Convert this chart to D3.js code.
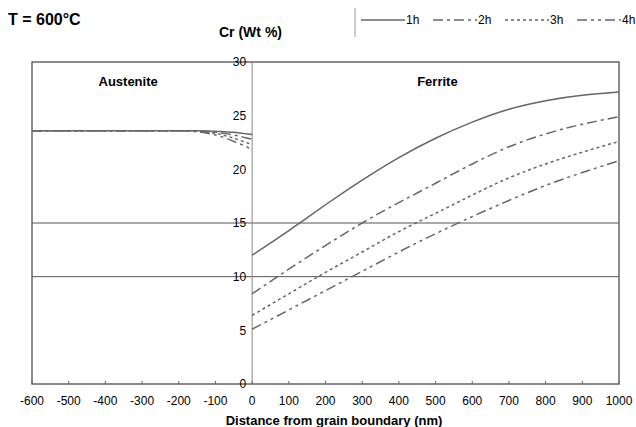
<!DOCTYPE html>
<html>
<head>
<meta charset="utf-8">
<script src="https://cdn.jsdelivr.net/npm/d3@7"></script>
<style>
  body { margin: 0; background: #fff; }
  text { font-family: "Liberation Sans", Arial, sans-serif; fill: #000; }
</style>
</head>
<body>
<div id="chart"></div>
<script>
// distances (nm), austenite side and ferrite side
var austX = [-600, -500, -400, -300, -200, -150, -100, -75, -50, -25, 0];
var ferrX = [0, 100, 200, 300, 400, 500, 600, 700, 800, 900, 1000];

var seriesNames = ["1h", "2h", "3h", "4h"];

// Cr (wt %) in austenite
var aust1h = [23.6, 23.6, 23.6, 23.6, 23.6, 23.6, 23.55, 23.5, 23.45, 23.35, 23.25];
var aust2h = [23.6, 23.6, 23.6, 23.6, 23.6, 23.58, 23.45, 23.35, 23.2, 23.0, 22.8];
var aust3h = [23.6, 23.6, 23.6, 23.6, 23.6, 23.55, 23.35, 23.15, 22.9, 22.6, 22.3];
var aust4h = [23.6, 23.6, 23.6, 23.6, 23.6, 23.5, 23.2, 22.95, 22.6, 22.25, 21.85];

// Cr (wt %) in ferrite
var ferr1h = [12.0, 14.3, 16.7, 19.0, 21.1, 22.9, 24.4, 25.6, 26.4, 26.9, 27.2];
var ferr2h = [8.4, 10.7, 12.9, 15.0, 16.9, 18.7, 20.5, 22.1, 23.3, 24.2, 24.9];
var ferr3h = [6.4, 8.4, 10.4, 12.3, 14.2, 15.9, 17.6, 19.2, 20.5, 21.6, 22.6];
var ferr4h = [5.1, 6.9, 8.7, 10.5, 12.3, 14.0, 15.6, 17.1, 18.5, 19.7, 20.8];

var xTicks = [-600, -500, -400, -300, -200, -100, 0, 100, 200, 300, 400, 500, 600, 700, 800, 900, 1000];
var yTicks = [0, 5, 10, 15, 20, 25, 30];
var gridValues = [10, 15];

var austData = [aust1h, aust2h, aust3h, aust4h];
var ferrData = [ferr1h, ferr2h, ferr3h, ferr4h];
var dashes = ["none", "10,4,3,4", "3,3", "10,4,3,4,3,4"];

var W = 636, H = 427;
var margin = {top: 62, right: 17, bottom: 43, left: 32};

var svg = d3.select("#chart").append("svg")
    .attr("width", W)
    .attr("height", H);

var x = d3.scaleLinear().domain([-600, 1000]).range([margin.left, W - margin.right]);
var y = d3.scaleLinear().domain([0, 30]).range([H - margin.bottom, margin.top]);

// grid lines
svg.selectAll(".grid").data(gridValues).enter().append("line")
    .attr("x1", x(-600)).attr("x2", x(1000))
    .attr("y1", function(d) { return y(d); })
    .attr("y2", function(d) { return y(d); })
    .attr("stroke", "#555").attr("stroke-width", 1);

// vertical axis at grain boundary
svg.append("line")
    .attr("x1", x(0)).attr("x2", x(0))
    .attr("y1", y(30)).attr("y2", y(0))
    .attr("stroke", "#888").attr("stroke-width", 1);

// plot frame
svg.append("rect")
    .attr("x", x(-600)).attr("y", y(30))
    .attr("width", x(1000) - x(-600))
    .attr("height", y(0) - y(30))
    .attr("fill", "none")
    .attr("stroke", "#666").attr("stroke-width", 1.5);

// x ticks (inside)
svg.selectAll(".xtick").data(xTicks).enter().append("line")
    .attr("x1", function(d) { return x(d); })
    .attr("x2", function(d) { return x(d); })
    .attr("y1", y(0)).attr("y2", y(0) - 3)
    .attr("stroke", "#666").attr("stroke-width", 1);

svg.selectAll(".xlab").data(xTicks).enter().append("text")
    .attr("x", function(d) { return x(d); })
    .attr("y", y(0) + 21)
    .attr("text-anchor", "middle")
    .style("font-size", "12px")
    .text(function(d) { return d; });

svg.selectAll(".ylab").data(yTicks).enter().append("text")
    .attr("x", x(0) - 6)
    .attr("y", function(d) { return y(d); })
    .attr("dy", "0.35em")
    .attr("text-anchor", "end")
    .style("font-size", "12px")
    .text(function(d) { return d; });

// curves
var line = d3.line()
    .x(function(d) { return x(d[0]); })
    .y(function(d) { return y(d[1]); })
    .curve(d3.curveNatural);

seriesNames.forEach(function(name, i) {
    [[austX, austData[i]], [ferrX, ferrData[i]]].forEach(function(part, k) {
        var pts = part[0].map(function(v, j) { return [v, part[1][j]]; });
        svg.append("path")
            .attr("d", line.curve(k == 0 ? d3.curveMonotoneX : d3.curveNatural)(pts))
            .attr("fill", "none")
            .attr("stroke", "#666")
            .attr("stroke-width", 1.5)
            .attr("stroke-dasharray", dashes[i]);
    });
});

// labels
svg.append("text").attr("x", 8).attr("y", 25)
    .style("font-size", "16px").style("font-weight", "bold")
    .text("T = 600°C");

svg.append("text").attr("x", 219).attr("y", 37)
    .style("font-size", "14px").style("font-weight", "bold")
    .text("Cr (Wt %)");

svg.append("text").attr("x", x(-338)).attr("y", 86)
    .attr("text-anchor", "middle")
    .style("font-size", "13px").style("font-weight", "bold")
    .text("Austenite");

svg.append("text").attr("x", x(505)).attr("y", 86)
    .attr("text-anchor", "middle")
    .style("font-size", "13px").style("font-weight", "bold")
    .text("Ferrite");

svg.append("text").attr("x", 334).attr("y", 425)
    .attr("text-anchor", "middle")
    .style("font-size", "13px").style("font-weight", "bold")
    .text("Distance from grain boundary (nm)");

// legend
svg.append("line")
    .attr("x1", 355).attr("x2", 355).attr("y1", 8).attr("y2", 37)
    .attr("stroke", "#999").attr("stroke-width", 1);

var legend = svg.selectAll(".legend").data(seriesNames).enter().append("g")
    .attr("transform", function(d, i) { return "translate(" + (361 + i * 72) + ",20)"; });

legend.append("line")
    .attr("x1", 0).attr("x2", 44).attr("y1", 0).attr("y2", 0)
    .attr("stroke", "#666").attr("stroke-width", 1.5)
    .attr("stroke-dasharray", function(d, i) { return dashes[i]; });

legend.append("text")
    .attr("x", 45).attr("dy", "0.35em")
    .style("font-size", "12px")
    .text(function(d) { return d; });
</script>
</body>
</html>
